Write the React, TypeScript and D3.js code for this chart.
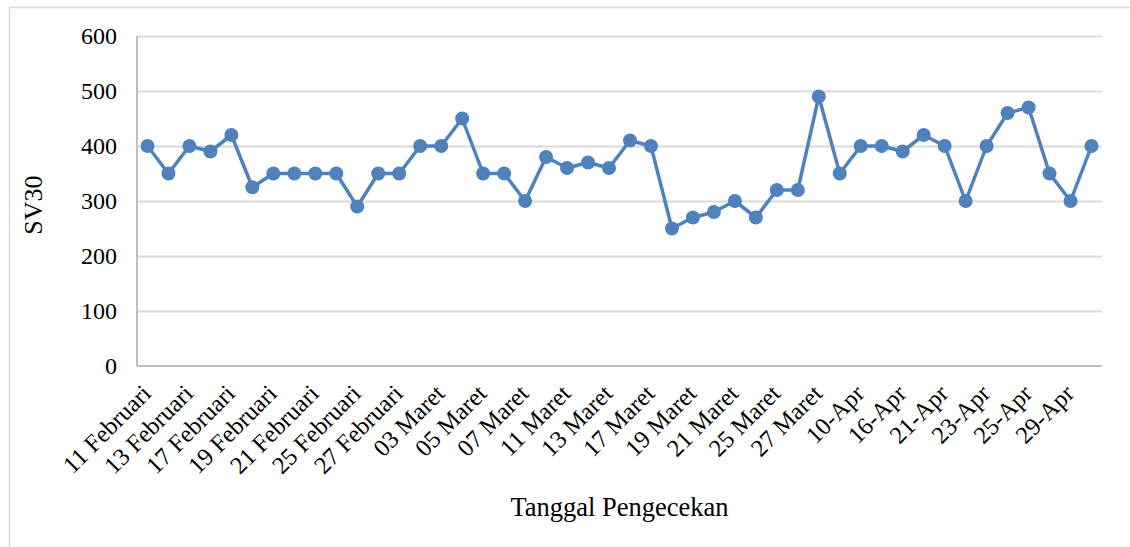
import React, { useEffect, useRef } from 'react';
import * as d3 from 'd3';

// SV30 readings, one per check date (only every other date is labelled on the axis)
const sv30Values = [
  400, 350, 400, 390, 420, 325, 350, 350, 350, 350,
  290, 350, 350, 400, 400, 450, 350, 350, 300, 380,
  360, 370, 360, 410, 400, 250, 270, 280, 300, 270,
  320, 320, 490, 350, 400, 400, 390, 420, 400, 300,
  400, 460, 470, 350, 300, 400,
];

// labels shown under every second point
const tickLabels = [
  '11 Februari', '13 Februari', '17 Februari', '19 Februari', '21 Februari',
  '25 Februari', '27 Februari', '03 Maret', '05 Maret', '07 Maret',
  '11 Maret', '13 Maret', '17 Maret', '19 Maret', '21 Maret',
  '25 Maret', '27 Maret', '10-Apr', '16-Apr', '21-Apr',
  '23-Apr', '25-Apr', '29-Apr',
];

const yTicks = [0, 100, 200, 300, 400, 500, 600];

const App = () => {
  const ref = useRef<SVGSVGElement>(null);

  useEffect(() => {
    const width = 1130, height = 547;
    const margin = { top: 36, right: 28, bottom: 181, left: 137 };
    const font = '"Liberation Serif", "Times New Roman", serif';

    const svg = d3.select(ref.current)
      .attr('width', width)
      .attr('height', height);
    svg.selectAll('*').remove();

    // outer chart border
    svg.append('rect')
      .attr('x', 9.5).attr('y', 7.5)
      .attr('width', 1140).attr('height', 560)
      .attr('fill', 'white')
      .attr('stroke', '#d9d9d9')
      .attr('stroke-width', 1.5);

    const x = d3.scaleBand<number>()
      .domain(d3.range(sv30Values.length))
      .range([margin.left, width - margin.right]);

    const y = d3.scaleLinear()
      .domain([0, 600])
      .range([height - margin.bottom, margin.top]);

    const cx = (i: number) => (x(i) ?? 0) + x.bandwidth() / 2;

    // gridlines
    svg.append('g')
      .selectAll('line')
      .data(yTicks.filter(d => d > 0))
      .join('line')
      .attr('x1', margin.left).attr('x2', width - margin.right)
      .attr('y1', d => Math.round(y(d)) + 0.5).attr('y2', d => Math.round(y(d)) + 0.5)
      .attr('stroke', '#d9d9d9')
      .attr('stroke-width', 2);

    // axis lines
    svg.append('line')
      .attr('x1', margin.left).attr('x2', width - margin.right)
      .attr('y1', y(0)).attr('y2', y(0))
      .attr('stroke', '#bfbfbf').attr('stroke-width', 2);
    svg.append('line')
      .attr('x1', margin.left).attr('x2', margin.left)
      .attr('y1', y(0)).attr('y2', y(600))
      .attr('stroke', '#bfbfbf').attr('stroke-width', 2);

    // y tick labels
    svg.append('g')
      .selectAll('text')
      .data(yTicks)
      .join('text')
      .attr('x', 117)
      .attr('y', d => y(d))
      .attr('dy', '0.35em')
      .attr('text-anchor', 'end')
      .attr('font-family', font)
      .attr('font-size', 24)
      .text(d => d);

    // x tick labels, rotated
    svg.append('g')
      .selectAll('text')
      .data(tickLabels)
      .join('text')
      .attr('transform', (d, i) => `translate(${cx(i * 2) + 5},${y(0) + 29}) rotate(-45)`)
      .attr('text-anchor', 'end')
      .attr('font-family', font)
      .attr('font-size', 24.5)
      .text(d => d);

    // axis titles
    svg.append('text')
      .attr('x', (margin.left + width - margin.right) / 2)
      .attr('y', 516)
      .attr('text-anchor', 'middle')
      .attr('font-family', font)
      .attr('font-size', 26.5)
      .text('Tanggal Pengecekan');

    svg.append('text')
      .attr('transform', `translate(42,${(y(0) + y(600)) / 2 + 4}) rotate(-90)`)
      .attr('text-anchor', 'middle')
      .attr('font-family', font)
      .attr('font-size', 26)
      .text('SV30');

    // series line + markers
    const color = '#4f81bd';
    svg.append('path')
      .datum(sv30Values)
      .attr('fill', 'none')
      .attr('stroke', color)
      .attr('stroke-width', 3.5)
      .attr('stroke-linejoin', 'round')
      .attr('d', d3.line<number>()
        .x((d, i) => cx(i))
        .y(d => y(d)));

    svg.append('g')
      .selectAll('circle')
      .data(sv30Values)
      .join('circle')
      .attr('cx', (d, i) => cx(i))
      .attr('cy', d => y(d))
      .attr('r', 7)
      .attr('fill', color);
  }, []);

  return (
    <div style={{ position: 'absolute', left: 0, top: 0 }}>
      <svg ref={ref} style={{ display: 'block' }}></svg>
    </div>
  );
};

export default App;
